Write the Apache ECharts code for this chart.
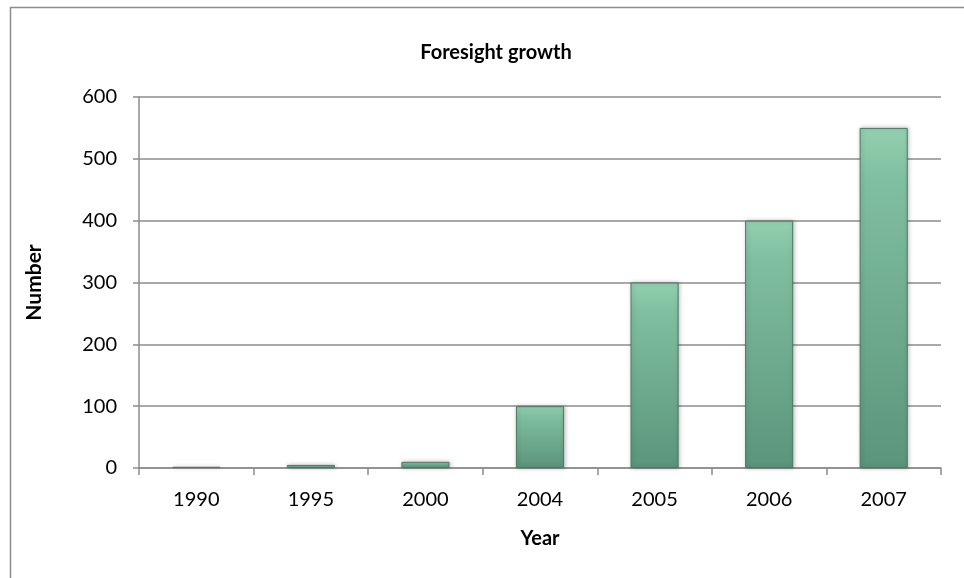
<!DOCTYPE html>
<html>
<head>
<meta charset="utf-8">
<script src="https://cdn.jsdelivr.net/npm/echarts@6/dist/echarts.min.js"></script>
<style>
  html, body { margin: 0; padding: 0; background: #fff; }
  #chart { width: 964px; height: 578px; }
</style>
</head>
<body>
<div id="chart"></div>
<script>
  var years = ['1990', '1995', '2000', '2004', '2005', '2006', '2007']
  var counts = [2, 5, 10, 100, 300, 400, 550]

  var chart = echarts.init(document.getElementById('chart'))
  var font = 'Lato, "Open Sans", sans-serif'

  chart.setOption({
    backgroundColor: '#fff',
    animation: false,
    textStyle: { fontFamily: font },
    graphic: [{
      type: 'rect',
      shape: { x: 10.5, y: 7.5, width: 1000, height: 1000 },
      style: { fill: 'none', stroke: '#8c8c8c', lineWidth: 1.5 },
      silent: true
    }],
    title: {
      text: 'Foresight growth',
      left: 491,
      top: 38,
      textAlign: 'center',
      textStyle: { fontFamily: font, fontSize: 20, fontWeight: 'bold', color: '#000' }
    },
    grid: { left: 139, right: 23, top: 97, bottom: 110 },
    xAxis: {
      type: 'category',
      data: years,
      name: 'Year',
      nameLocation: 'middle',
      nameGap: 61,
      nameTextStyle: { fontFamily: font, fontSize: 20, fontWeight: 'bold', color: '#000' },
      axisLine: { lineStyle: { color: '#8c8c8c', width: 1.5 } },
      axisTick: { show: true, length: 7, lineStyle: { color: '#8c8c8c', width: 1.5 } },
      axisLabel: { fontFamily: font, fontSize: 20, color: '#000', margin: 22 }
    },
    yAxis: {
      type: 'value',
      min: 0,
      max: 600,
      interval: 100,
      name: 'Number',
      nameLocation: 'middle',
      nameGap: 94,
      nameTextStyle: { fontFamily: font, fontSize: 21, fontWeight: 'bold', color: '#000' },
      axisLine: { show: true, lineStyle: { color: '#8c8c8c', width: 1.5 } },
      axisTick: { show: true, length: 6, lineStyle: { color: '#8c8c8c', width: 1.5 } },
      axisLabel: { fontFamily: font, fontSize: 20, color: '#000', margin: 22 },
      splitLine: { lineStyle: { color: '#8c8c8c', width: 1.5 } }
    },
    series: [{
      type: 'bar',
      data: counts,
      barWidth: '42%',
      itemStyle: {
        color: new echarts.graphic.LinearGradient(0, 0, 0, 1, [
          { offset: 0, color: '#92d0b0' },
          { offset: 0.15, color: '#80bf9f' },
          { offset: 1, color: '#5b957c' }
        ]),
        borderColor: '#4a7a64',
        borderWidth: 1,
        shadowColor: 'rgba(0,0,0,0.25)',
        shadowBlur: 4,
        shadowOffsetX: 1
      }
    }]
  })
</script>
</body>
</html>
